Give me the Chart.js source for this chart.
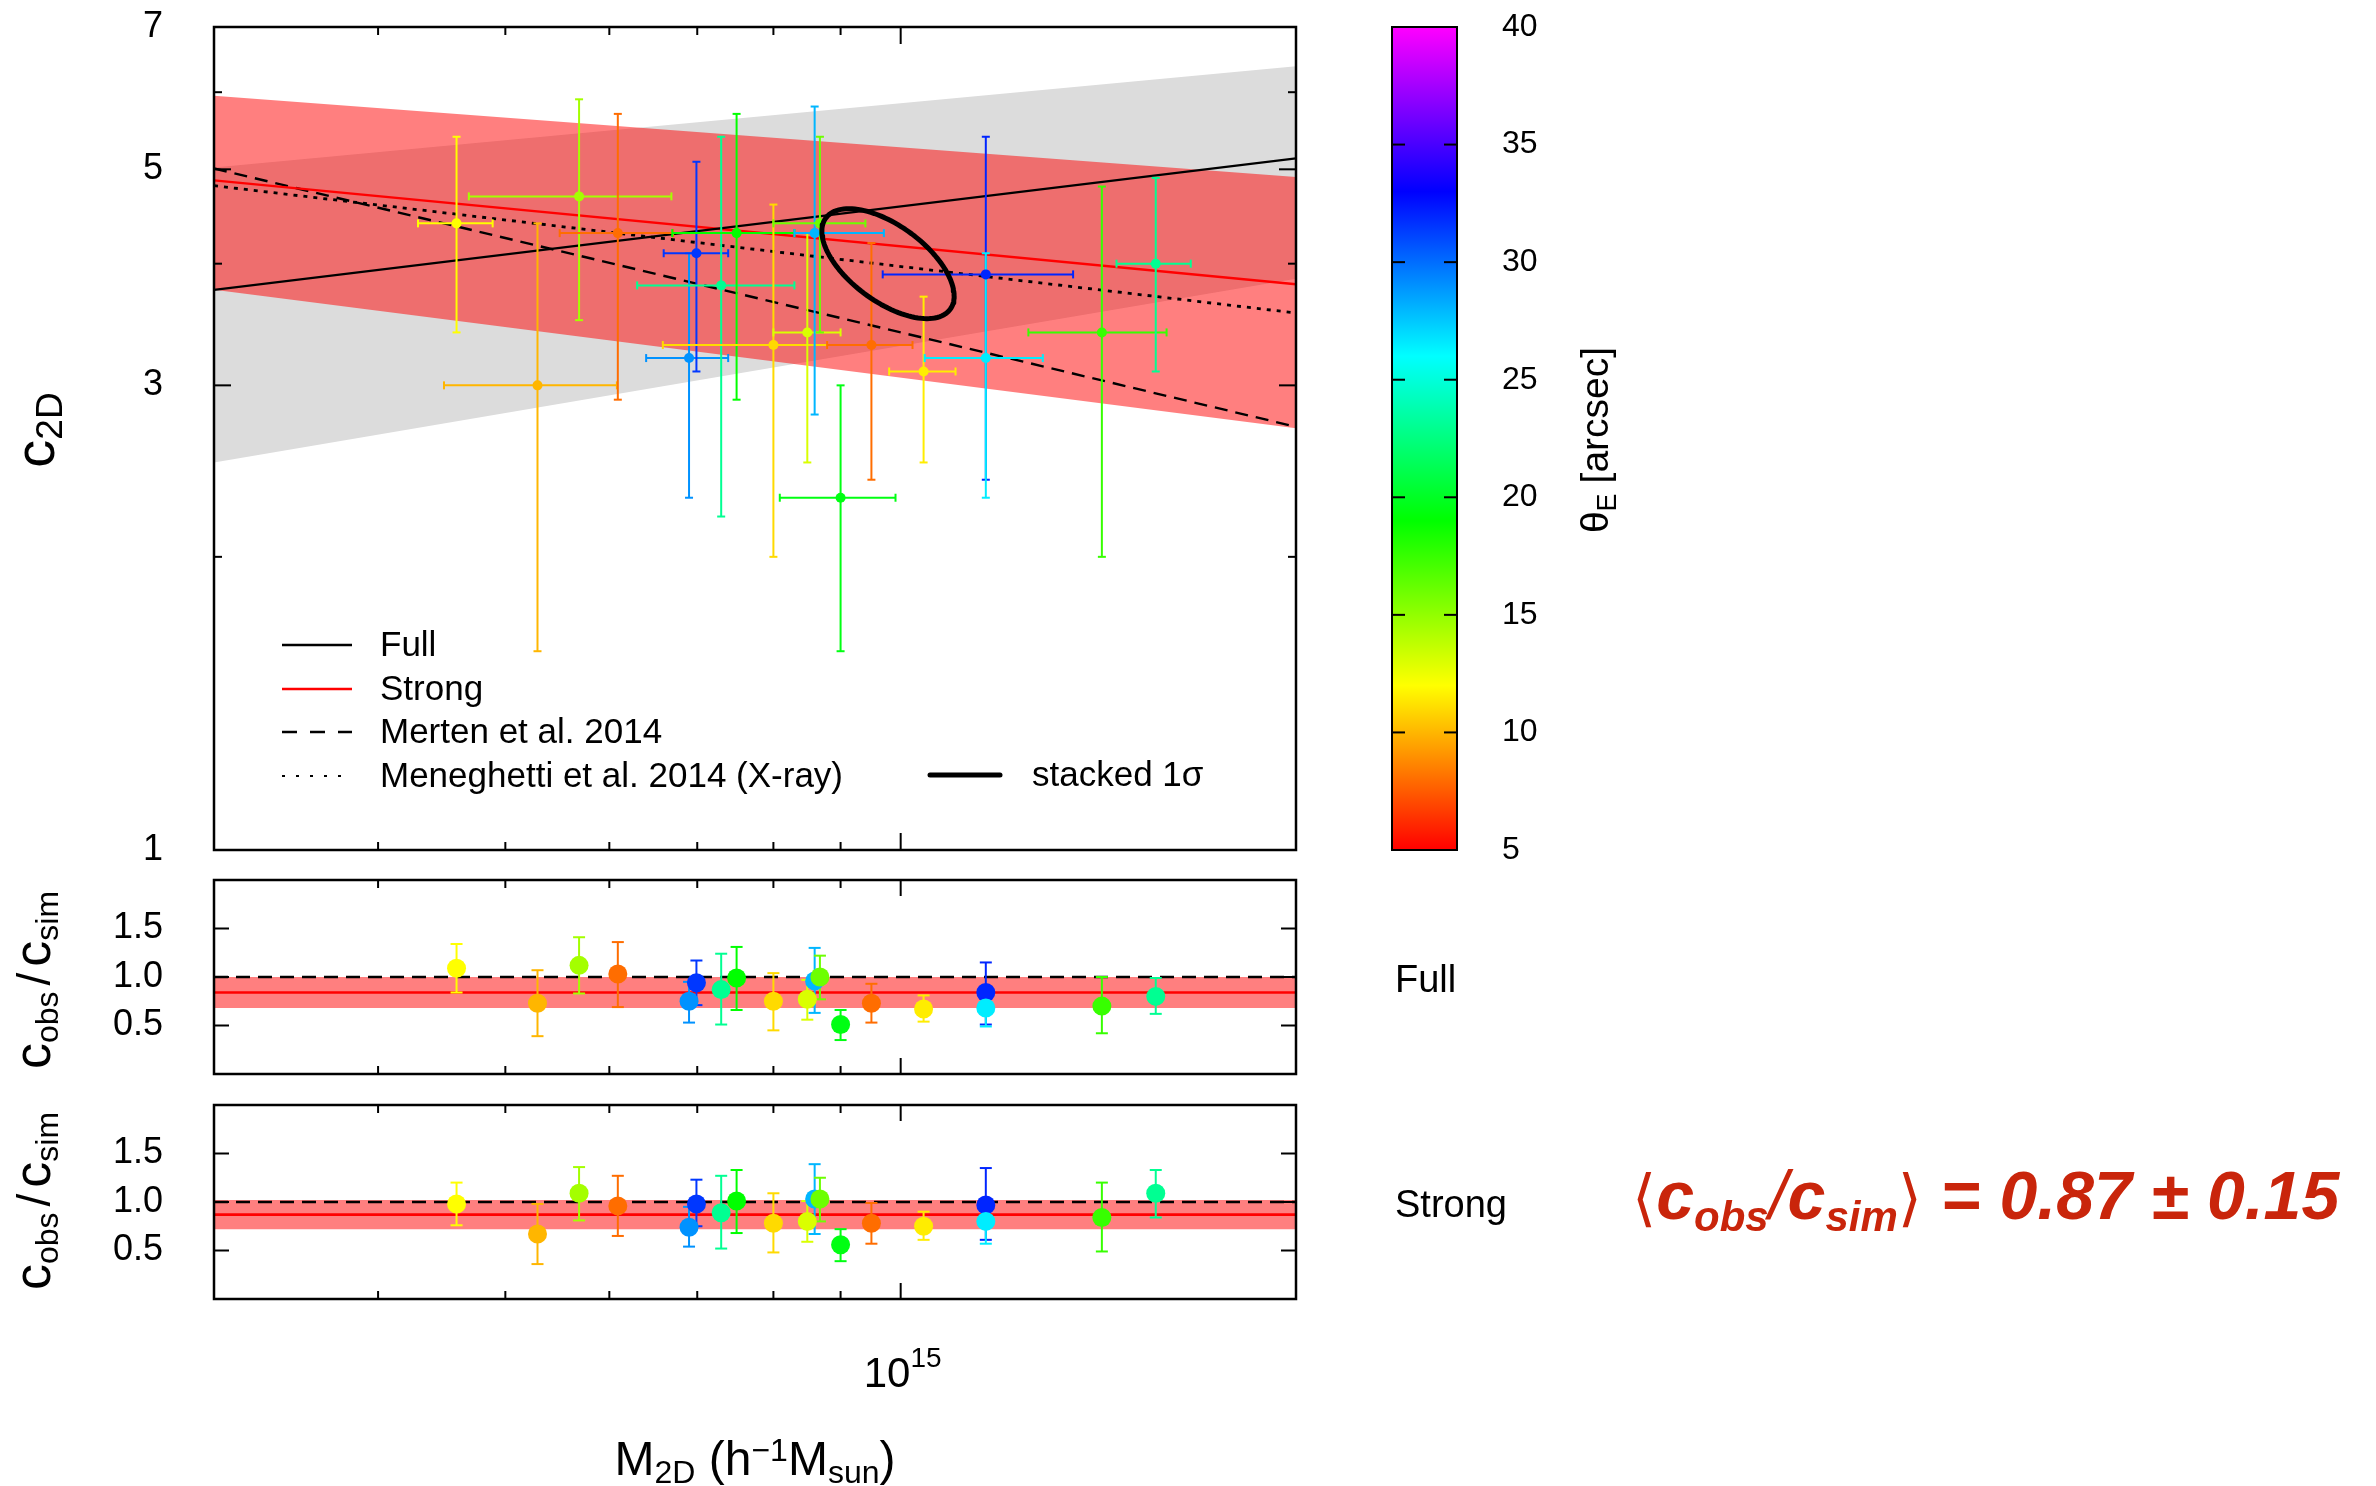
<!DOCTYPE html>
<html>
<head>
<meta charset="utf-8">
<title>c2D vs M2D</title>
<script src="https://cdn.jsdelivr.net/npm/chart.js@4.4.1/dist/chart.umd.min.js"></script>
<style>
  html, body { margin: 0; padding: 0; background: #fff; }
  body { width: 2376px; height: 1486px; position: relative; overflow: hidden; }
  .panel { position: absolute; }
</style>
</head>
<body>
<div class="panel" style="left:0;top:0;width:1370px;height:880px"><canvas id="mainChart"></canvas></div>
<div class="panel" style="left:1370px;top:0;width:300px;height:880px"><canvas id="colorBar"></canvas></div>
<div class="panel" style="left:0;top:855px;width:1560px;height:244px"><canvas id="ratioFull"></canvas></div>
<div class="panel" style="left:0;top:1080px;width:2376px;height:406px"><canvas id="ratioStrong"></canvas></div>
<script>
const FONT = '"Liberation Sans", Arial, Helvetica, sans-serif';
Chart.defaults.font.family = FONT;
Chart.defaults.color = '#000';

// cluster masses in units of 1e15 h^-1 Msun, sorted by mass
const clusterMass = [0.459, 0.529, 0.569, 0.609, 0.690, 0.699, 0.730, 0.750, 0.800, 0.849, 0.860, 0.868, 0.900, 0.950, 1.041, 1.161, 1.161, 1.423, 1.564];
const massLow  = [0.429, 0.449, 0.469, 0.550, 0.640, 0.660, 0.630, 0.670, 0.659, 0.800, 0.830, 0.800, 0.809, 0.879, 0.980, 0.969, 1.043, 1.251, 1.460];
const massHigh = [0.489, 0.608, 0.669, 0.671, 0.739, 0.739, 0.830, 0.830, 0.879, 0.900, 0.971, 0.940, 0.991, 1.021, 1.101, 1.353, 1.283, 1.594, 1.663];
const conc2D   = [4.40, 3.00, 4.69, 4.30, 3.20, 4.10, 3.80, 4.30, 3.30, 3.40, 4.30, 4.40, 2.30, 3.30, 3.10, 3.90, 3.20, 3.40, 4.00];
const concLow  = [3.40, 1.60, 3.50, 2.90, 2.30, 3.10, 2.20, 2.90, 2.00, 2.50, 2.80, 3.40, 1.60, 2.40, 2.50, 2.40, 2.30, 2.00, 3.10];
const concHigh = [5.40, 4.40, 5.90, 5.70, 4.10, 5.09, 5.40, 5.70, 4.60, 4.30, 5.80, 5.40, 3.00, 4.20, 3.70, 5.40, 4.10, 4.80, 4.90];
const thetaE   = [12, 10, 14.5, 8, 29, 31.5, 23, 19, 11, 13, 28, 16, 19.5, 8, 11.5, 32, 26.5, 17.5, 23];

// c_obs / c_sim, full and strong-lensing
const ratioFull      = [1.09, 0.73, 1.12, 1.03, 0.75, 0.94, 0.87, 0.99, 0.75, 0.77, 0.96, 1.00, 0.51, 0.73, 0.67, 0.84, 0.68, 0.70, 0.80];
const ratioFullLow   = [0.84, 0.39, 0.83, 0.69, 0.53, 0.71, 0.51, 0.66, 0.45, 0.56, 0.63, 0.77, 0.35, 0.53, 0.54, 0.51, 0.49, 0.42, 0.62];
const ratioFullHigh  = [1.34, 1.07, 1.41, 1.36, 0.95, 1.17, 1.24, 1.31, 1.04, 0.97, 1.30, 1.22, 0.66, 0.93, 0.81, 1.15, 0.86, 1.00, 0.99];
const ratioStrong     = [0.98, 0.67, 1.09, 0.96, 0.74, 0.98, 0.89, 1.01, 0.78, 0.80, 1.03, 1.03, 0.56, 0.78, 0.75, 0.97, 0.80, 0.84, 1.09];
const ratioStrongLow  = [0.76, 0.36, 0.81, 0.65, 0.54, 0.75, 0.52, 0.68, 0.48, 0.59, 0.67, 0.80, 0.39, 0.57, 0.61, 0.61, 0.57, 0.49, 0.84];
const ratioStrongHigh = [1.20, 0.98, 1.36, 1.27, 0.95, 1.23, 1.27, 1.33, 1.09, 1.01, 1.39, 1.25, 0.72, 0.99, 0.90, 1.35, 1.00, 1.20, 1.33];
const ratioFullMean = 0.84, ratioFullSigma = 0.16;
const ratioStrongMean = 0.87, ratioStrongSigma = 0.15;

// axes
const massRange = [0.3, 2.0];
const massMinorTicks = [0.4, 0.5, 0.6, 0.7, 0.8, 0.9];
const massMajorTicks = [1];
const concRange = [1, 7];
const concLabelTicks = [1, 3, 5, 7];
const concMajorTicks = [3, 5];
const concMinorTicks = [2, 4, 6];
const ratioRange = [0, 2];
const ratioTicks = [0.5, 1.0, 1.5];
const thetaRange = [5, 40];
const thetaTicks = [5, 10, 15, 20, 25, 30, 35, 40];
const paletteHues = [0, 60, 120, 180, 240, 300];

// c-M relations at the two ends of the mass range
const fullFit        = [3.76, 5.13];
const fullFitHigh    = [5.02, 6.38];
const fullFitLow     = [2.50, 3.86];
const strongFit      = [4.87, 3.81];
const strongFitHigh  = [5.95, 4.91];
const strongFitLow   = [3.76, 2.71];
const merten2014     = [5.01, 2.72];
const meneghetti2014 = [4.81, 3.56];

// stacked 1 sigma contour: centre (M, c), sigma of ln M and ln c, correlation
const stackedCenter = [0.978, 4.00];
const stackedSigmaLn = [0.116, 0.130];
const stackedRho = -0.59;

const pts = (xs, ys) => xs.map((x, i) => ({ x: x, y: ys[i] }));
const thetaColor = t => {
  const h = (t - thetaRange[0]) / (thetaRange[1] - thetaRange[0]) * paletteHues[paletteHues.length - 1];
  return 'hsl(' + h.toFixed(1) + ',100%,50%)';
};
const pointColors = thetaE.map(thetaColor);

const stackedContour = [];
for (let k = 0; k <= 120; k++) {
  const t = 2 * Math.PI * k / 120;
  const lm = Math.log(stackedCenter[0]) + stackedSigmaLn[0] * Math.cos(t);
  const lc = Math.log(stackedCenter[1]) + stackedSigmaLn[1] * (stackedRho * Math.cos(t) + Math.sqrt(1 - stackedRho * stackedRho) * Math.sin(t));
  stackedContour.push({ x: Math.exp(lm), y: Math.exp(lc) });
}

// text with sub/superscripts, optionally rotated to read bottom-up
function richText(ctx, parts, x, y, opts) {
  opts = opts || {};
  const fontOf = p => (p.style || 'normal') + ' ' + (p.weight || 'normal') + ' ' + p.size + 'px ' + (p.family || FONT);
  ctx.save();
  ctx.translate(x, y);
  if (opts.rotate) ctx.rotate(-Math.PI / 2);
  ctx.fillStyle = opts.color || '#000';
  ctx.textAlign = 'left';
  ctx.textBaseline = 'alphabetic';
  let total = 0;
  parts.forEach(p => { ctx.font = fontOf(p); p.w = ctx.measureText(p.t).width; total += p.w + (p.gap || 0); });
  let cx = opts.align === 'left' ? 0 : -total / 2;
  parts.forEach(p => { ctx.font = fontOf(p); ctx.fillText(p.t, cx, p.dy || 0); cx += p.w + (p.gap || 0); });
  ctx.restore();
}

function seg(ctx, x1, y1, x2, y2) {
  ctx.beginPath(); ctx.moveTo(x1, y1); ctx.lineTo(x2, y2); ctx.stroke();
}

// gnuplot-like box with inward ticks on all four sides
const framePlugin = {
  id: 'frame',
  afterDatasetsDraw(chart, args, opts) {
    const ctx = chart.ctx, a = chart.chartArea;
    const xs = chart.scales.x, ys = chart.scales.y;
    ctx.save();
    ctx.strokeStyle = '#000';
    ctx.lineWidth = opts.tickWidth || 2;
    (opts.xTicks || []).forEach(([v, len]) => {
      const px = xs.getPixelForValue(v);
      seg(ctx, px, a.bottom, px, a.bottom - len);
      seg(ctx, px, a.top, px, a.top + len);
    });
    (opts.yTicks || []).forEach(([v, len]) => {
      const py = ys.getPixelForValue(v);
      seg(ctx, a.left, py, a.left + len, py);
      seg(ctx, a.right, py, a.right - len, py);
    });
    ctx.lineWidth = opts.borderWidth || 2.5;
    ctx.strokeRect(a.left, a.top, a.right - a.left, a.bottom - a.top);
    ctx.restore();
  }
};

// error bars under the points of any dataset that carries errorBars
const errorBarPlugin = {
  id: 'errorBars',
  beforeDatasetDraw(chart, args) {
    const ds = chart.data.datasets[args.index];
    if (!ds.errorBars) return;
    const e = ds.errorBars, ctx = chart.ctx, a = chart.chartArea;
    const xs = chart.scales.x, ys = chart.scales.y;
    ctx.save();
    ctx.beginPath(); ctx.rect(a.left, a.top, a.right - a.left, a.bottom - a.top); ctx.clip();
    ctx.lineWidth = e.width;
    ds.data.forEach((p, i) => {
      ctx.strokeStyle = ds.pointBackgroundColor[i];
      const px = xs.getPixelForValue(p.x), py = ys.getPixelForValue(p.y);
      if (e.xLow) {
        const x1 = xs.getPixelForValue(e.xLow[i]), x2 = xs.getPixelForValue(e.xHigh[i]);
        seg(ctx, x1, py, x2, py);
        seg(ctx, x1, py - e.cap, x1, py + e.cap);
        seg(ctx, x2, py - e.cap, x2, py + e.cap);
      }
      const y1 = ys.getPixelForValue(e.yLow[i]), y2 = ys.getPixelForValue(e.yHigh[i]);
      seg(ctx, px, y1, px, y2);
      seg(ctx, px - e.cap, y1, px + e.cap, y1);
      seg(ctx, px - e.cap, y2, px + e.cap, y2);
    });
    ctx.restore();
  }
};

const lineDs = (label, ys, color, width, dash, order, extra) => Object.assign({
  type: 'line', label: label, data: pts(massRange, ys), borderColor: color, borderWidth: width,
  borderDash: dash || [], pointRadius: 0, fill: false, order: order, clip: 0
}, extra || {});

// hidden tick marks push the labels away from the box without padding the chart area
const labelGap = len => ({ display: true, drawOnChartArea: false, drawTicks: true, tickLength: len, color: 'rgba(0,0,0,0)' });

const logMassAxis = { type: 'logarithmic', min: massRange[0], max: massRange[1], display: false };
const massTickMarks = massMinorTicks.map(v => [v, 8]).concat(massMajorTicks.map(v => [v, 17]));

// ---------- main c2D - M2D panel ----------
new Chart(document.getElementById('mainChart'), {
  type: 'scatter',
  data: {
    datasets: [
      lineDs('Full band high', fullFitHigh, 'transparent', 0, null, 10, { fill: '+1', backgroundColor: '#dcdcdc' }),
      lineDs('Full band low', fullFitLow, 'transparent', 0, null, 10),
      lineDs('Strong band high', strongFitHigh, 'transparent', 0, null, 9, { fill: '+1', backgroundColor: 'rgba(255,0,0,0.5)' }),
      lineDs('Strong band low', strongFitLow, 'transparent', 0, null, 9),
      lineDs('Full', fullFit, '#000000', 2.3, [], 5),
      lineDs('Strong', strongFit, '#ff0000', 2.3, [], 5),
      lineDs('Merten et al. 2014', merten2014, '#000000', 2.4, [13, 8], 5),
      lineDs('Meneghetti et al. 2014 (X-ray)', meneghetti2014, '#000000', 2.8, [4, 6], 5),
      {
        type: 'scatter', label: 'clusters', data: pts(clusterMass, conc2D),
        pointRadius: 5, pointBackgroundColor: pointColors, pointBorderWidth: 0, order: 2,
        errorBars: { xLow: massLow, xHigh: massHigh, yLow: concLow, yHigh: concHigh, cap: 4, width: 2 }
      },
      {
        type: 'line', label: 'stacked 1\u03c3', data: stackedContour, borderColor: '#000000', borderWidth: 5,
        pointRadius: 0, fill: false, order: 1, borderJoinStyle: 'round', borderCapStyle: 'round'
      }
    ]
  },
  options: {
    responsive: true, maintainAspectRatio: false, animation: false, devicePixelRatio: 1,
    layout: { padding: { left: 0, top: 27, right: 74, bottom: 30 } },
    plugins: {
      legend: { display: false }, tooltip: { enabled: false },
      frame: {
        xTicks: massTickMarks,
        yTicks: concMajorTicks.map(v => [v, 17]).concat(concMinorTicks.map(v => [v, 8]))
      }
    },
    scales: {
      x: logMassAxis,
      y: {
        type: 'logarithmic', min: concRange[0], max: concRange[1],
        afterFit: s => { s.width = 214; },
        afterBuildTicks: s => { s.ticks = concLabelTicks.map(v => ({ value: v })); },
        grid: labelGap(51), border: { display: false },
        ticks: { font: { size: 36 }, color: '#000', padding: 0, callback: v => String(v) }
      }
    }
  },
  plugins: [framePlugin, errorBarPlugin, {
    id: 'mainText',
    afterDraw(chart) {
      const ctx = chart.ctx, ds = chart.data.datasets;
      richText(ctx, [{ t: 'c', size: 56 }, { t: '2D', size: 37, dy: 8 }], 54, 430, { rotate: true });
      const items = [
        { i: 4, x: 282, y: 645, off: 98 },
        { i: 5, x: 282, y: 689, off: 98 },
        { i: 6, x: 282, y: 732, off: 98, dash: [15, 13] },
        { i: 7, x: 282, y: 776, off: 98, dash: [3, 11] },
        { i: 9, x: 930, y: 775, off: 102 }
      ];
      items.forEach(it => {
        const d = ds[it.i];
        ctx.save();
        ctx.strokeStyle = d.borderColor;
        ctx.lineWidth = it.i === 7 ? 2.2 : d.borderWidth;
        ctx.lineCap = it.i === 9 ? 'round' : 'butt';
        ctx.setLineDash(it.dash || d.borderDash || []);
        seg(ctx, it.x, it.y, it.x + 70, it.y);
        ctx.setLineDash([]);
        ctx.fillStyle = '#000';
        ctx.font = '35px ' + FONT;
        ctx.textBaseline = 'middle';
        ctx.fillText(d.label, it.x + it.off, it.y + 1);
        ctx.restore();
      });
    }
  }]
});

// ---------- colour bar ----------
new Chart(document.getElementById('colorBar'), {
  type: 'bar',
  data: {
    labels: [''],
    datasets: [{
      data: [[thetaRange[0], thetaRange[1]]],
      backgroundColor: c => {
        const chart = c.chart;
        if (!chart.chartArea) return '#ff0000';
        const y = chart.scales.y;
        const g = chart.ctx.createLinearGradient(0, y.getPixelForValue(thetaRange[0]), 0, y.getPixelForValue(thetaRange[1]));
        paletteHues.forEach((h, i) => g.addColorStop(i / (paletteHues.length - 1), 'hsl(' + h + ',100%,50%)'));
        return g;
      },
      borderWidth: 0, categoryPercentage: 1, barPercentage: 1
    }]
  },
  options: {
    responsive: true, maintainAspectRatio: false, animation: false, devicePixelRatio: 1,
    layout: { padding: { left: 22, top: 27, right: 0, bottom: 30 } },
    plugins: {
      legend: { display: false }, tooltip: { enabled: false },
      frame: { yTicks: thetaTicks.slice(1, -1).map(v => [v, 13]), borderWidth: 2 }
    },
    scales: {
      x: { display: false },
      y: {
        position: 'right', min: thetaRange[0], max: thetaRange[1],
        afterFit: s => { s.width = 213; },
        afterBuildTicks: s => { s.ticks = thetaTicks.map(v => ({ value: v })); },
        grid: labelGap(45), border: { display: false },
        ticks: { font: { size: 32 }, color: '#000', padding: 0 }
      }
    }
  },
  plugins: [framePlugin, {
    id: 'barTitle',
    afterDraw(chart) {
      richText(chart.ctx, [
        { t: '\u03b8', size: 39 }, { t: 'E', size: 27, dy: 8, gap: 10 }, { t: '[arcsec]', size: 39 }
      ], 238, 440, { rotate: true });
    }
  }]
});

// ---------- ratio panels ----------
function ratioChart(id, ratio, low, high, mean, sigma, padRight, padBottom, textPlugin) {
  return new Chart(document.getElementById(id), {
    type: 'scatter',
    data: {
      datasets: [
        lineDs('band high', [mean + sigma, mean + sigma], 'transparent', 0, null, 10, { fill: '+1', backgroundColor: 'rgba(255,0,0,0.5)' }),
        lineDs('band low', [mean - sigma, mean - sigma], 'transparent', 0, null, 10),
        lineDs('unity', [1, 1], '#000000', 2.6, [14, 8], 5),
        lineDs('mean', [mean, mean], '#ff0000', 2.6, [], 4),
        {
          type: 'scatter', label: 'ratio', data: pts(clusterMass, ratio),
          pointRadius: 9.5, pointBackgroundColor: pointColors, pointBorderWidth: 0, order: 1,
          errorBars: { yLow: low, yHigh: high, cap: 6, width: 2 }
        }
      ]
    },
    options: {
      responsive: true, maintainAspectRatio: false, animation: false, devicePixelRatio: 1,
      layout: { padding: { left: 0, top: 25, right: padRight, bottom: padBottom } },
      plugins: {
        legend: { display: false }, tooltip: { enabled: false },
        frame: { xTicks: massTickMarks.map(([v, l]) => [v, l === 8 ? 8 : 16]), yTicks: ratioTicks.map(v => [v, 15]) }
      },
      scales: {
        x: logMassAxis,
        y: {
          min: ratioRange[0], max: ratioRange[1],
          afterFit: s => { s.width = 214; },
          afterBuildTicks: s => { s.ticks = ratioTicks.map(v => ({ value: v })); },
          grid: labelGap(51), border: { display: false },
          ticks: { font: { size: 36 }, color: '#000', padding: 0, callback: v => Number(v).toFixed(1) }
        }
      }
    },
    plugins: [framePlugin, errorBarPlugin, textPlugin]
  });
}

const ratioLabel = (ctx, cy) => richText(ctx, [
  { t: 'c', size: 52 }, { t: 'obs', size: 32, dy: 8, gap: 6 }, { t: '/', size: 46, gap: 6 },
  { t: 'c', size: 52 }, { t: 'sim', size: 32, dy: 8 }
], 50, cy, { rotate: true });

ratioChart('ratioFull', ratioFull, ratioFullLow, ratioFullHigh, ratioFullMean, ratioFullSigma, 264, 25, {
  id: 'fullText',
  afterDraw(chart) {
    const ctx = chart.ctx;
    ratioLabel(ctx, 125);
    ctx.save(); ctx.fillStyle = '#000'; ctx.font = '38px ' + FONT; ctx.fillText('Full', 1395, 137); ctx.restore();
  }
});

ratioChart('ratioStrong', ratioStrong, ratioStrongLow, ratioStrongHigh, ratioStrongMean, ratioStrongSigma, 1080, 187, {
  id: 'strongText',
  afterDraw(chart) {
    const ctx = chart.ctx;
    ratioLabel(ctx, 121);
    ctx.save(); ctx.fillStyle = '#000'; ctx.font = '38px ' + FONT; ctx.fillText('Strong', 1395, 137); ctx.restore();
    // x tick label and axis title
    const x15 = chart.scales.x.getPixelForValue(massMajorTicks[0]);
    richText(ctx, [{ t: '10', size: 42 }, { t: '15', size: 28, dy: -20 }], x15 + 2, 307);
    richText(ctx, [
      { t: 'M', size: 48 }, { t: '2D', size: 32, dy: 8 }, { t: ' (h', size: 48 }, { t: '\u22121', size: 32, dy: -14 },
      { t: 'M', size: 48 }, { t: 'sun', size: 32, dy: 8 }, { t: ')', size: 48 }
    ], 755, 395);
    // mean ratio, strong lensing
    const red = '#c9250b';
    const bi = { style: 'italic', weight: 'bold' };
    richText(ctx, [
      { t: '\u27e8', size: 62, family: '"DejaVu Sans", ' + FONT },
      Object.assign({ t: 'c', size: 68 }, bi),
      Object.assign({ t: 'obs', size: 42, dy: 12 }, bi),
      { t: '/', size: 68, style: 'italic' },
      Object.assign({ t: 'c', size: 68 }, bi),
      Object.assign({ t: 'sim', size: 42, dy: 12 }, bi),
      { t: '\u27e9', size: 62, family: '"DejaVu Sans", ' + FONT },
      Object.assign({ t: ' = 0.87 \u00b1 0.15', size: 68 }, bi)
    ], 1632, 139, { align: 'left', color: red });
  }
});
</script>
</body>
</html>
